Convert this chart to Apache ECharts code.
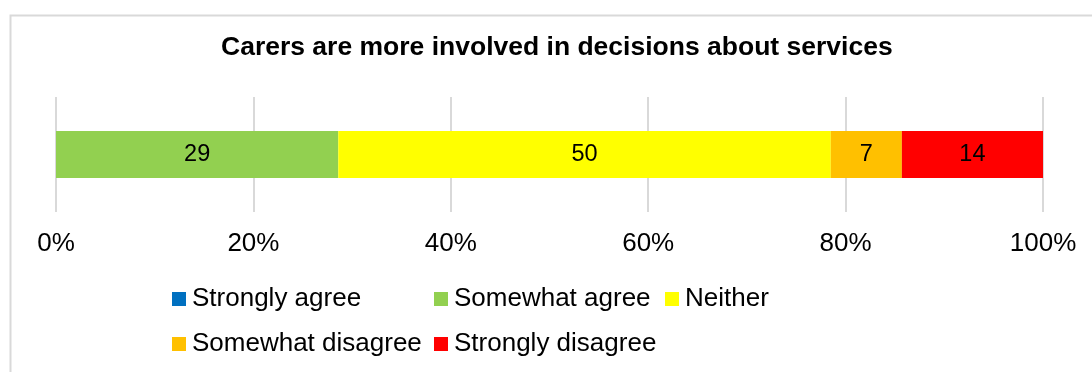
<!DOCTYPE html>
<html>
<head>
<meta charset="utf-8">
<script src="https://cdn.jsdelivr.net/npm/echarts@6/dist/echarts.min.js"></script>
<style>
  html, body { margin: 0; padding: 0; background: #fff; }
  #chart { width: 1092px; height: 372px; }
</style>
</head>
<body>
<div id="chart"></div>
<script>
// answers, left to right in the stacked bar
var categories = ['Carers are more involved'];
var seriesNames = ['Strongly agree', 'Somewhat agree', 'Neither', 'Somewhat disagree', 'Strongly disagree'];
var seriesColors = ['#0070C0', '#92D050', '#FFFF00', '#FFC000', '#FF0000'];
var stronglyAgree = [0];
var somewhatAgree = [28.6];
var neither = [49.9];
var somewhatDisagree = [7.2];
var stronglyDisagree = [14.3];
var tickLabels = ['0%', '20%', '40%', '60%', '80%', '100%'];

var seriesValues = [stronglyAgree, somewhatAgree, neither, somewhatDisagree, stronglyDisagree];

var chartDom = document.getElementById('chart');
var myChart = echarts.init(chartDom);
var option;

var font = 'Liberation Sans, Arial, sans-serif';

// legend laid out like a table: two rows, fixed columns
var legendPos = [
  { left: 172, top: 286 },
  { left: 434, top: 286 },
  { left: 665, top: 286 },
  { left: 172, top: 331 },
  { left: 434, top: 331 }
];
var legends = seriesNames.map(function (name, i) {
  return {
    data: [name],
    left: legendPos[i].left,
    top: legendPos[i].top,
    padding: 0,
    icon: 'rect',
    itemWidth: 14,
    itemHeight: 14,
    itemGap: 0,
    selectedMode: false,
    textStyle: { fontFamily: font, fontSize: 26, color: '#000', padding: [0, 0, 0, 1] }
  };
});

var series = seriesNames.map(function (name, i) {
  return {
    name: name,
    type: 'bar',
    stack: 'total',
    barWidth: 47,
    itemStyle: { color: seriesColors[i] },
    label: {
      show: true,
      position: 'inside',
      fontFamily: font,
      fontSize: 23.5,
      color: '#000',
      formatter: function (p) {
        return p.value > 0 ? Math.round(p.value) : '';
      }
    },
    data: seriesValues[i]
  };
});

option = {
  animation: false,
  backgroundColor: '#fff',
  title: {
    text: 'Carers are more involved in decisions about services',
    left: 221,
    top: 34,
    padding: 0,
    textStyle: { fontFamily: font, fontSize: 26.5, fontWeight: 'bold', color: '#000' }
  },
  graphic: [
    {
      type: 'rect',
      left: 8,
      top: 13,
      shape: { width: 1200, height: 500 },
      style: { fill: 'none', stroke: '#d9d9d9', lineWidth: 2 },
      silent: true
    }
  ],
  legend: legends,
  grid: { left: 56, right: 49, top: 97, bottom: 160 },
  xAxis: {
    type: 'value',
    min: 0,
    max: 100,
    interval: 20,
    axisLine: { show: false },
    axisTick: { show: false },
    splitLine: { show: true, lineStyle: { color: '#d9d9d9', width: 2 } },
    axisLabel: {
      margin: 19,
      fontFamily: font,
      fontSize: 26,
      color: '#000',
      formatter: function (v) { return tickLabels[v / 20]; }
    }
  },
  yAxis: {
    type: 'category',
    data: categories,
    axisLine: { show: false },
    axisTick: { show: false },
    axisLabel: { show: false }
  },
  series: series
};

option && myChart.setOption(option);
</script>
</body>
</html>
